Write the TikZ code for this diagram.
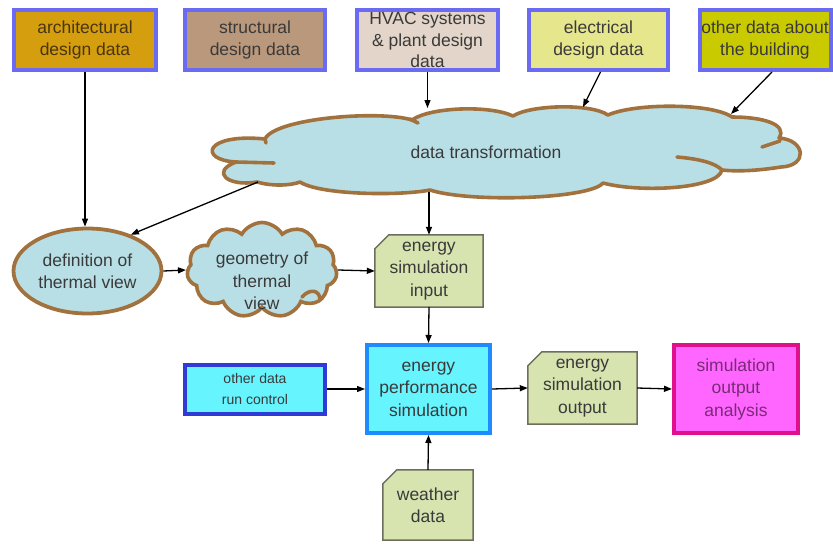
\documentclass[tikz,border=0pt]{standalone}
\usepackage{fontspec}
\setmainfont{Liberation Sans}
\usetikzlibrary{shapes.geometric,shapes.symbols,arrows.meta,backgrounds}
\definecolor{boxblue}{HTML}{6A6AF2}
\definecolor{archfill}{HTML}{D49E0E}
\definecolor{structfill}{HTML}{B9987C}
\definecolor{hvacfill}{HTML}{E3D5C9}
\definecolor{elecfill}{HTML}{E6E68C}
\definecolor{otherfill}{HTML}{CACA00}
\definecolor{cloudfill}{HTML}{B9DFE6}
\definecolor{cloudbrown}{HTML}{A2723E}
\definecolor{docfill}{HTML}{D7E4B0}
\definecolor{docborder}{HTML}{6E6E5E}
\definecolor{cyanfill}{HTML}{66F4FF}
\definecolor{epsborder}{HTML}{1E8CFF}
\definecolor{rcborder}{HTML}{2E3BD6}
\definecolor{magfill}{HTML}{FF66FF}
\definecolor{magborder}{HTML}{E0108C}
\definecolor{txt}{HTML}{3A3A3A}
\definecolor{archtxt}{HTML}{4A3510}
\definecolor{magtxt}{HTML}{7A2A78}
\begin{document}
\begin{tikzpicture}[x=1pt,y=-1pt,
  font=\fontsize{17.5}{22.5}\selectfont, text=txt,
  topbox/.style={draw=boxblue, line width=4pt, minimum height=60pt, align=center, inner sep=0pt},
  cloudline/.style={draw=cloudbrown, fill=cloudfill, line width=3.6pt, line join=round},
  docnode/.style={align=center, inner sep=0pt},
  docline/.style={draw=docborder, fill=docfill, line width=1.5pt},
  hook/.style={draw=cloudbrown, line width=3.6pt, line cap=round},
  arr/.style={-{Triangle[length=8pt,width=6pt]}, line width=1.3pt, black}
]
\useasboundingbox (0,0) rectangle (833,544);

% top boxes
\node[topbox, fill=archfill, minimum width=142pt, text=archtxt] (arch) at (85,40) {architectural\\design data};
\node[topbox, fill=structfill, minimum width=140pt] (struct) at (255,40) {structural\\design data};
\node[topbox, fill=hvacfill, minimum width=141pt, font=\fontsize{17.5}{21.5}\selectfont] (hvac) at (427.5,40) {HVAC systems\\\& plant design\\data};
\node[topbox, fill=elecfill, minimum width=139pt] (elec) at (598.5,40) {electrical\\design data};
\node[topbox, fill=otherfill, minimum width=131pt] (other) at (765,40) {other data about\\the building};

% data transformation cloud
\draw[cloudline] (236,162)
  .. controls (198,160) and (204,133) .. (265,139)
  .. controls (275,118) and (380,110) .. (412,120)
  .. controls (430,107) and (490,105) .. (513,116)
  .. controls (530,105) and (590,103) .. (608,115)
  .. controls (635,103) and (712,103) .. (732,117)
  .. controls (762,117) and (788,124) .. (779,138)
  .. controls (806,140) and (808,166) .. (781,167)
  .. controls (762,170) and (740,172) .. (722,170)
  .. controls (718,189) and (640,193) .. (603,183)
  .. controls (590,199) and (470,203) .. (430,190)
  .. controls (400,196) and (320,195) .. (300,182)
  .. controls (290,186) and (270,186) .. (257,182)
  .. controls (228,187) and (210,172) .. (236,162) -- cycle;
\draw[hook] (236,162) -- (274,163);
\draw[hook] (677,157) .. controls (700,159) and (715,163) .. (722,170);
\draw[hook] (762,147) -- (780,141);
\draw[hook] (410,119) -- (418,123);
\draw[hook] (265,139) -- (266,143);
\node[font=\fontsize{17.5}{20}\selectfont] (dt) at (486,152) {data transformation};

% thermal view
\node[ellipse, draw=cloudbrown, fill=cloudfill, line width=3.8pt, minimum width=148pt, minimum height=85pt,
  align=center, inner sep=0pt] (defn) at (87.5,271) {definition of\\thermal view};
\node[cloud, draw=cloudbrown, fill=cloudfill, line width=3.6pt, cloud ignores aspect, cloud puffs=11, cloud puff arc=120,
  minimum width=150pt, minimum height=95pt] (geo) at (262,270) {};
\draw[hook] (302,297) .. controls (310,288) and (320,290) .. (320,300);
\node[align=center] (geotxt) at (262,281) {geometry of\\thermal\\view};

% documents
\node[docnode, minimum width=108pt, minimum height=72pt] (esi) at (429,271) {energy\\simulation\\input};
\node[docnode, minimum width=109pt, minimum height=72pt] (eso) at (582.5,388) {energy\\simulation\\output};
\node[docnode, minimum width=90pt, minimum height=70pt] (wd) at (428,505) {weather\\data};
\begin{scope}[on background layer]
\foreach \n in {esi,eso,wd}
  \draw[docline] ([yshift=-14pt]\n.north west) -- ([xshift=14pt]\n.north west) -- (\n.north east) -- (\n.south east) -- (\n.south west) -- cycle;
\end{scope}

% simulation boxes
\node[draw=epsborder, fill=cyanfill, line width=4pt, minimum width=123pt, minimum height=88pt, align=center, inner sep=0pt] (eps) at (428.5,389) {energy\\performance\\simulation};
\node[draw=rcborder, fill=cyanfill, line width=4pt, minimum width=140pt, minimum height=49pt, align=center, inner sep=0pt,
  font=\fontsize{14}{21}\selectfont] (rc) at (255,389) {other data\\run control};
\node[draw=magborder, fill=magfill, line width=4pt, minimum width=124pt, minimum height=88pt, align=center, inner sep=0pt, text=magtxt] (soa) at (736,389) {simulation\\output\\analysis};

% connector end points on the big cloud
\coordinate (c1) at (427.5,108);
\coordinate (c2) at (583,107);
\coordinate (c3) at (731,114);
\coordinate (c4) at (258,182);
\coordinate (c5) at (429,192);

\draw[arr] (arch.south) -- (arch.south |- defn.north);
\draw[arr] (hvac.south) -- (c1);
\draw[arr] ([xshift=2pt]elec.south) -- (c2);
\draw[arr] ([xshift=7pt]other.south) -- (c3);
\draw[arr] (c4) -- (defn.40);
\draw[arr] (c5) -- (esi.north);
\draw[arr] (defn.east) -- (geo.west);
\draw[arr] (geo.east) -- (esi.west);
\draw[arr] (esi.south) -- (eps.north);
\draw[arr] (rc.east) -- (eps.west);
\draw[arr] (eps.east) -- (eso.west);
\draw[arr] (eso.east) -- (soa.west);
\draw[arr] (wd.north) -- (eps.south);
\end{tikzpicture}
\end{document}
